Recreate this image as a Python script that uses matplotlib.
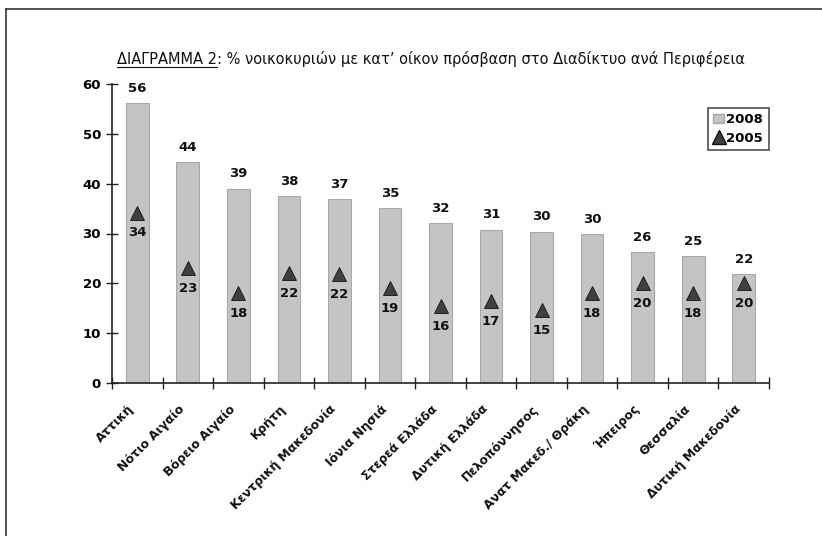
import matplotlib
matplotlib.use("Agg")
import matplotlib.pyplot as plt
from matplotlib.lines import Line2D
from matplotlib.patches import Patch
import numpy as np

regions = ["Αττική", "Νότιο Αιγαίο", "Βόρειο Αιγαίο", "Κρήτη", "Κεντρική Μακεδονία",
           "Ιόνια Νησιά", "Στερεά Ελλάδα", "Δυτική Ελλάδα", "Πελοπόννησος",
           "Ανατ Μακεδ./ Θράκη", "Ήπειρος", "Θεσσαλία", "Δυτική Μακεδονία"]
vals_2008 = [56.2, 44.3, 39.0, 37.5, 36.9, 35.1, 32.1, 30.8, 30.4, 29.8, 26.3, 25.4, 21.8]
vals_2005 = [34.2, 23.1, 18.0, 22.1, 21.8, 19.1, 15.4, 16.4, 14.7, 18.1, 20.1, 18.1, 20.0]
labels_2008 = [56, 44, 39, 38, 37, 35, 32, 31, 30, 30, 26, 25, 22]
labels_2005 = [34, 23, 18, 22, 22, 19, 16, 17, 15, 18, 20, 18, 20]
yticks = [0, 10, 20, 30, 40, 50, 60]

plt.rcParams['font.family'] = ['DejaVu Sans']

W, H = 822, 536
fig = plt.figure(figsize=(W/100, H/100), dpi=100)
ax = fig.add_axes([112/W, 1-383/H, 657/W, 299/H])

x = np.arange(len(regions))
ax.bar(x, vals_2008, width=0.45, color='#c4c4c4', edgecolor='#a8a8a8', linewidth=0.8, zorder=2)
ax.plot(x, vals_2005, linestyle='none', marker='^', markersize=10,
        markerfacecolor='#404040', markeredgecolor='#111111', markeredgewidth=0.6, zorder=3)

for xi, v, lab in zip(x, vals_2008, labels_2008):
    ax.annotate(str(lab), (xi, v), xytext=(0, 6), textcoords='offset points',
                ha='center', va='bottom', fontsize=9.5, fontweight='bold', color='#111111')
for xi, v, lab in zip(x, vals_2005, labels_2005):
    ax.annotate(str(lab), (xi, v), xytext=(0, -10), textcoords='offset points',
                ha='center', va='top', fontsize=9.5, fontweight='bold', color='#111111')

ax.set_xlim(-0.5, len(regions) - 0.5)
ax.set_ylim(0, 60)
ax.set_yticks(yticks)
ax.set_yticklabels([str(t) for t in yticks], fontsize=9.5, fontweight='bold')
ax.set_xticks(np.arange(len(regions) + 1) - 0.5)
ax.set_xticklabels([])
# category labels, placed at each category position on the x axis
for xi, name in zip(x, regions):
    ax.annotate(name, (xi, 0), xycoords=ax.get_xaxis_transform(),
                xytext=(-7, -14), textcoords='offset points',
                rotation=45, ha='right', va='top', rotation_mode='anchor',
                fontsize=8.8, fontweight='bold', color='#111111', annotation_clip=False)
ax.tick_params(axis='both', which='major', direction='inout', length=8, width=1.0, color='#222222')
ax.tick_params(axis='y', pad=4)
for s in ['top', 'right']:
    ax.spines[s].set_visible(False)
for s in ['left', 'bottom']:
    ax.spines[s].set_linewidth(1.2)
    ax.spines[s].set_color('#222222')

handles = [Patch(facecolor='#c4c4c4', edgecolor='#a8a8a8', label='2008'),
           Line2D([], [], linestyle='none', marker='^', markersize=10,
                  markerfacecolor='#404040', markeredgecolor='#111111', label='2005')]
leg = ax.legend(handles=handles, loc='upper left', bbox_to_anchor=((708-112)/657, (383-108)/299),
                prop={'weight': 'bold', 'size': 9.5}, frameon=True, fancybox=False,
                handlelength=0.8, handletextpad=0.2, borderpad=0.4, labelspacing=0.4,
                borderaxespad=0)
leg.get_frame().set_edgecolor('#222222')
leg.get_frame().set_linewidth(1.2)

# title with underlined part
ty = 1 - 64/H
t1 = fig.text(117/W, ty, "ΔΙΑΓΡΑΜΜΑ 2", fontsize=10.5, va='baseline', ha='left', color='#111111')
fig.canvas.draw()
r = fig.canvas.get_renderer()
bb = t1.get_window_extent(r)
fig.text(bb.x1/W, ty, ": % νοικοκυριών με κατ’ οίκον πρόσβαση στο Διαδίκτυο ανά Περιφέρεια",
         fontsize=10.5, va='baseline', ha='left', color='#111111')
fig.add_artist(Line2D([bb.x0/W, bb.x1/W], [ty - 3/H, ty - 3/H], color='#111111', linewidth=0.8))

# partial frame
fig.add_artist(Line2D([6/W, 1], [1-9/H, 1-9/H], color='#333333', linewidth=1.2))
fig.add_artist(Line2D([6/W, 6/W], [0, 1-9/H], color='#333333', linewidth=1.2))

fig.savefig("out.png", dpi=100)
